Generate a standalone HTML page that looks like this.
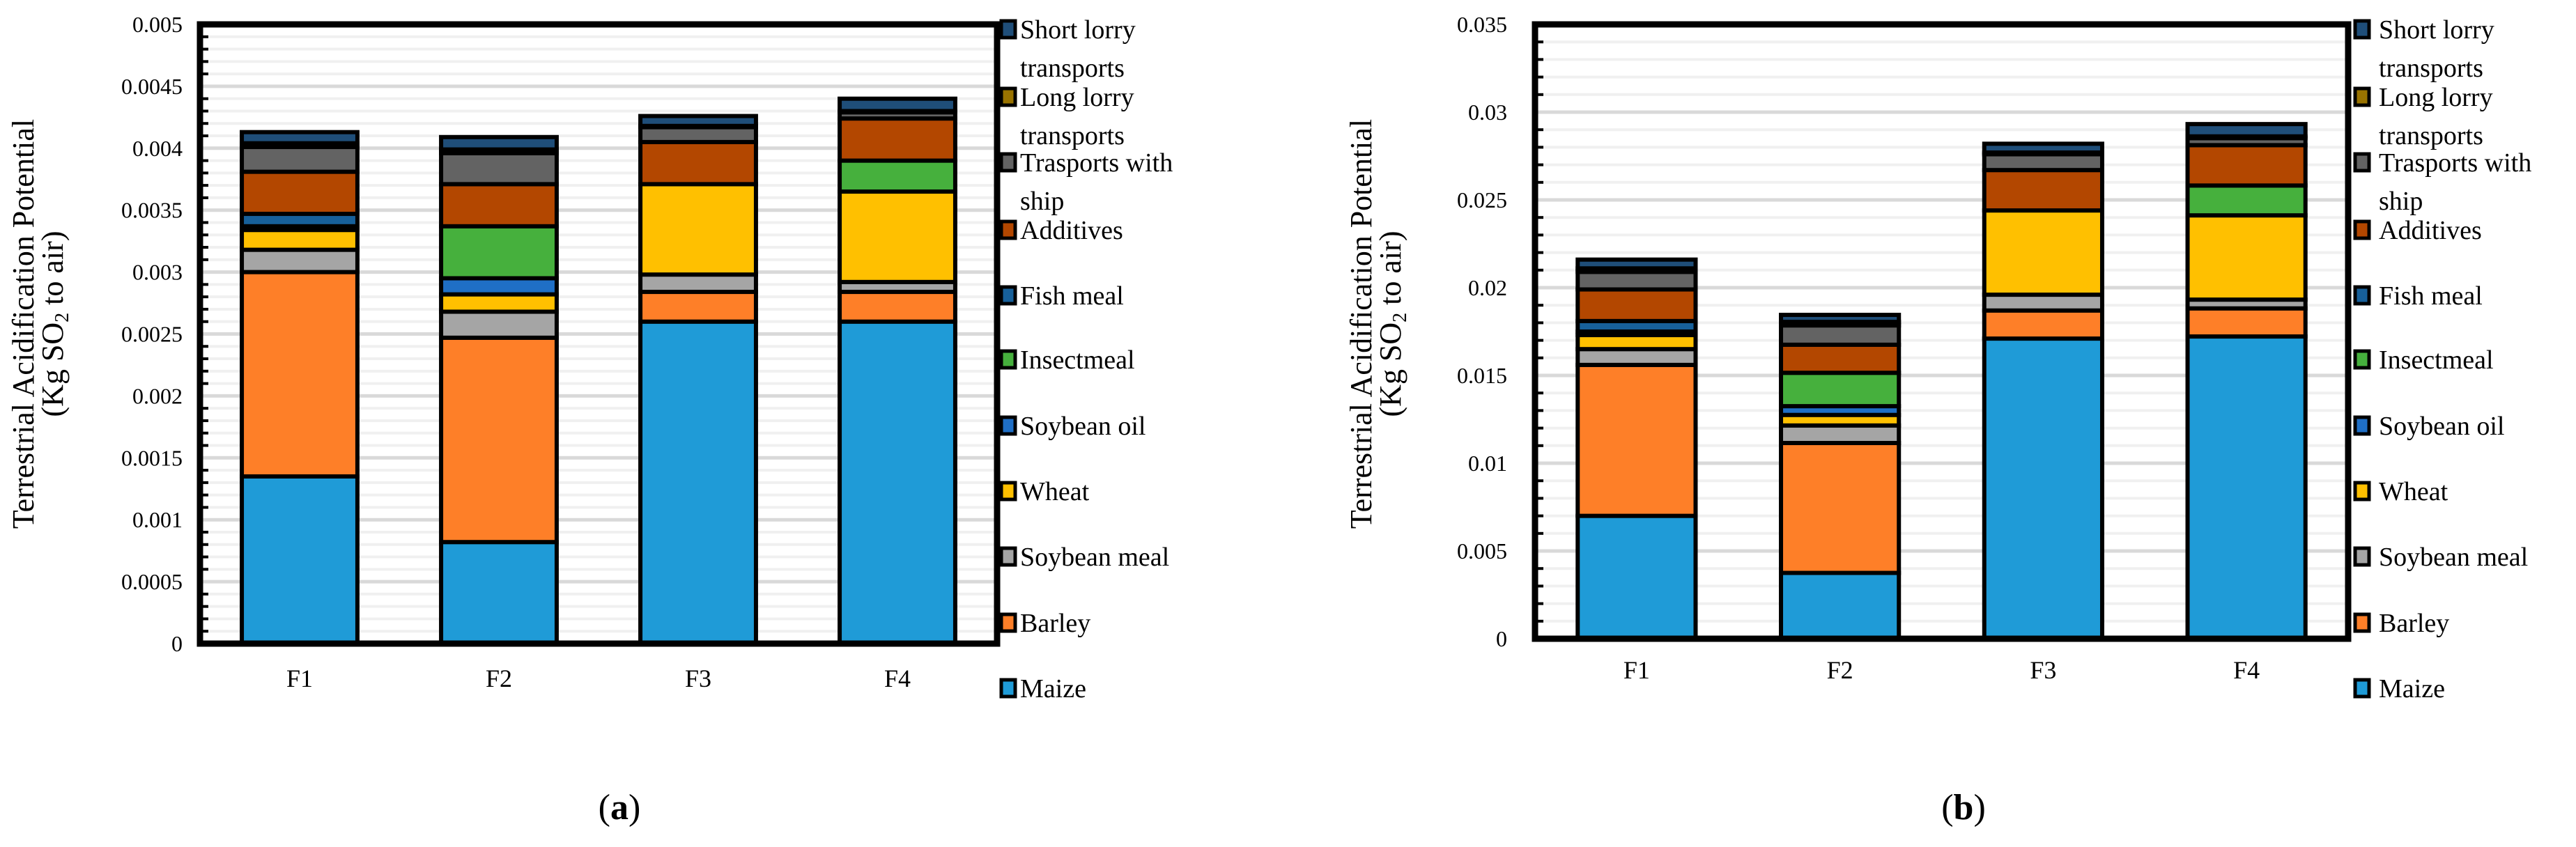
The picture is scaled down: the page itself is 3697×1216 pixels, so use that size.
<!DOCTYPE html>
<html><head><meta charset="utf-8"><style>
html,body{margin:0;padding:0;background:#fff;}
svg, svg text{font-family:"Liberation Serif",serif;}
svg{display:block;}
</style></head><body>
<svg id="root" width="3697" height="1216" viewBox="0 0 3697 1216" xmlns="http://www.w3.org/2000/svg" font-family="Liberation Serif, serif"></svg>
<script>
const series = ["Maize","Barley","Soybean meal","Wheat","Soybean oil","Insectmeal","Fish meal","Additives","Trasports with ship","Long lorry transports","Short lorry transports"];
const colors = ["#1f9bd7","#fe7f28","#a5a5a5","#ffc000","#1f6fc6","#46b03d","#17609a","#b34700","#636363","#997300","#1f4e79"];
const categories = ["F1","F2","F3","F4"];
// Chart (a) values per series: [F1,F2,F3,F4]
const aMaize=[0.00135,0.00082,0.0026,0.0026];
const aBarley=[0.00165,0.00165,0.00024,0.00024];
const aSoyMeal=[0.00018,0.00021,0.00014,0.00008];
const aWheat=[0.00016,0.00014,0.00073,0.00073];
const aSoyOil=[0.00003,0.00013,0,0];
const aInsect=[0,0.00042,0,0.00025];
const aFish=[0.0001,0,0,0];
const aAdditives=[0.00034,0.00034,0.00034,0.00034];
const aShip=[0.0002,0.00025,0.00012,0.00005];
const aLong=[0.00003,0.00003,0.00001,0.00001];
const aShort=[0.00009,0.0001,0.00008,0.0001];
const aTicks=["0","0.0005","0.001","0.0015","0.002","0.0025","0.003","0.0035","0.004","0.0045","0.005"];
// Chart (b)
const bMaize=[0.0070,0.00375,0.0171,0.01722];
const bBarley=[0.0086,0.0074,0.0016,0.0016];
const bSoyMeal=[0.0009,0.001,0.0009,0.0005];
const bWheat=[0.0008,0.0006,0.0048,0.0048];
const bSoyOil=[0.0002,0.0005,0,0];
const bInsect=[0,0.0019,0,0.0017];
const bFish=[0.0006,0,0,0];
const bAdditives=[0.0018,0.0016,0.0023,0.0023];
const bShip=[0.001,0.0011,0.0009,0.0004];
const bLong=[0.0002,0.0002,0.0001,0.0001];
const bShort=[0.0005,0.0004,0.0005,0.0007];
const bTicks=["0","0.005","0.01","0.015","0.02","0.025","0.03","0.035"];

const NS="http://www.w3.org/2000/svg";
const root=document.getElementById('root');
function mk(tag,attrs,parent){const e=document.createElementNS(NS,tag);for(const k in attrs)e.setAttribute(k,attrs[k]);(parent||root).appendChild(e);return e;}

function chart(o){
  const g=mk('g',{});
  
  
  const L=o.left,R=o.right,T=o.top,B=o.bottom;
  const y=v=>B-(v/o.max)*(B-T);
  const n=o.ticks.length-1, step=o.max/n;
  for(let i=0;i<n;i++){for(let j=1;j<5;j++){const yy=y(step*(i+j/5));
    const l=mk('line',{x1:L,x2:R,y1:yy,y2:yy,stroke:'#f0f0f0','stroke-width':4},g);
    
    
    const t=mk('line',{x1:L,x2:L+12,y1:yy,y2:yy,stroke:'#000','stroke-width':4},g);
    
    
  }}
  o.ticks.forEach((lab,i)=>{const yy=y(step*i);
    if(i>0&&i<n){const l=mk('line',{x1:L,x2:R,y1:yy,y2:yy,stroke:'#d9d9d9','stroke-width':5},g);
      
      }
    const t=mk('text',{x:o.labelRight,y:yy+11,'text-anchor':'end','font-size':32},g);
    t.textContent=lab;
    
    
  });
  const cw=(R-L)/categories.length, bw=cw*0.58;
  categories.forEach((c,ci)=>{
    const cx=L+cw*(ci+0.5); let acc=0;
    o.data.forEach((arr,si)=>{const v=arr[ci]; if(v<=0)return;
      const y1=y(acc+v),y0=y(acc); acc+=v;
      const r=mk('rect',{x:cx-bw/2,y:y1,width:bw,height:y0-y1,fill:colors[si],stroke:'#000','stroke-width':6},g);
      
      
    });
    const t=mk('text',{x:cx,y:o.catY,'text-anchor':'middle','font-size':36},g);
    t.textContent=c;
    
    
  });
  const fr=mk('rect',{x:L,y:T,width:R-L,height:B-T,fill:'none',stroke:'#000','stroke-width':9},g);
  
  
  const cy=465;
  const t1=mk('text',{x:0,y:0,'text-anchor':'middle','font-size':44,transform:`translate(${o.titleX1},${cy}) rotate(-90)`},g);
  t1.textContent='Terrestrial Acidification Potential';
  
  
  const t2=mk('text',{x:0,y:0,'text-anchor':'middle','font-size':44,transform:`translate(${o.titleX2},${cy}) rotate(-90)`},g);
  t2.innerHTML='(Kg SO<tspan font-size="28" dy="8">2</tspan><tspan dy="-8"> to air)</tspan>';
  
  
  const rows=[[42,"Short lorry","transports"],[139,"Long lorry","transports"],[233,"Trasports with","ship"],[330,"Additives"],[424,"Fish meal"],[516,"Insectmeal"],[611,"Soybean oil"],[705,"Wheat"],[799,"Soybean meal"],[894,"Barley"],[988,"Maize"]];
  rows.forEach((r,i)=>{const si=10-i;
    const lg=mk('g',{},g);
    
    
    mk('rect',{x:o.legX,y:r[0]-12,width:20,height:24,fill:colors[si],stroke:'#000','stroke-width':5},lg);
    const t=mk('text',{x:o.legTextX,y:r[0]+13,'font-size':38},lg);
    t.textContent=r[1];
    if(r[2]){const t3=mk('text',{x:o.legTextX,y:r[0]+68,'font-size':38},lg);t3.textContent=r[2];}
  });
  const pl=mk('text',{x:o.panelX,y:1176,'text-anchor':'middle','font-size':52},g);
  pl.innerHTML='(<tspan font-weight="bold">'+o.panel+'</tspan>)';
  
  
}
chart({name:'chart-a',left:287,right:1431,top:35,bottom:924,max:0.005,ticks:aTicks,labelRight:262,catY:986,titleX1:48,titleX2:90,legX:1437,legTextX:1464,panelX:889,panel:'a',
  data:[aMaize,aBarley,aSoyMeal,aWheat,aSoyOil,aInsect,aFish,aAdditives,aShip,aLong,aShort]});
chart({name:'chart-b',left:2203,right:3370,top:35,bottom:917,max:0.035,ticks:bTicks,labelRight:2163,catY:974,titleX1:1968,titleX2:2010,legX:3380,legTextX:3414,panelX:2818,panel:'b',
  data:[bMaize,bBarley,bSoyMeal,bWheat,bSoyOil,bInsect,bFish,bAdditives,bShip,bLong,bShort]});
</script>
</body></html>
